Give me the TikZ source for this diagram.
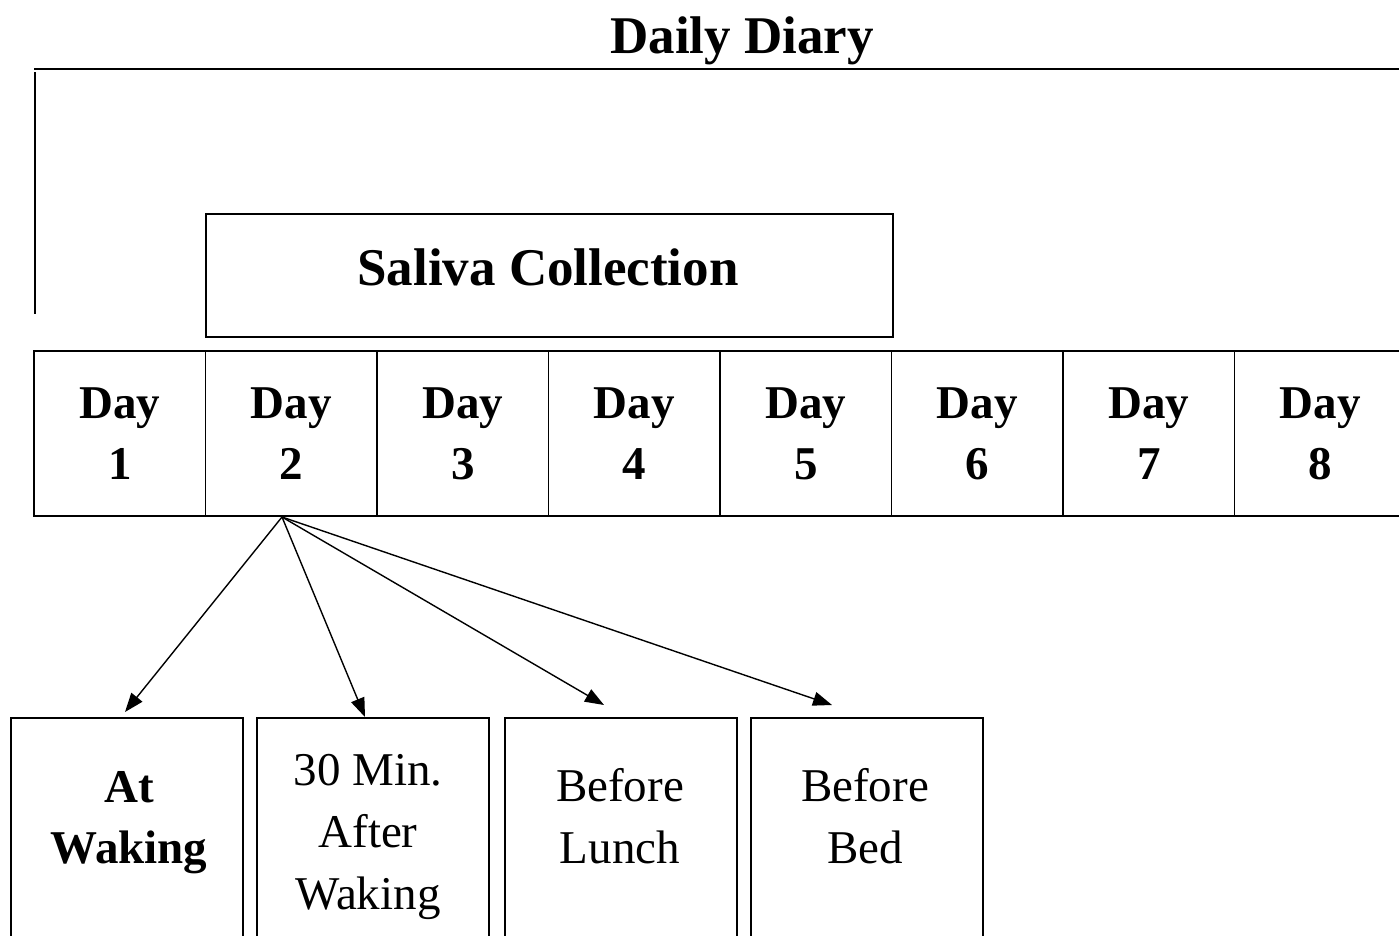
\documentclass[tikz,border=0pt]{standalone}
\usepackage{fontspec}
\setmainfont{Liberation Serif}
\usetikzlibrary{arrows.meta}
\begin{document}
\begin{tikzpicture}[x=1pt,y=-1pt,
  rule/.style={line width=1.8pt},
  daycell/.style={draw,line width=1.8pt,minimum width=171.5pt,minimum height=165pt,inner sep=0pt,outer sep=0pt,anchor=north west,align=center,font=\fontsize{47}{61}\selectfont\bfseries},
  timebox/.style={draw,line width=1.8pt,minimum width=232pt,minimum height=260pt,inner sep=0pt,outer sep=0pt,anchor=north west},
  boxtext/.style={inner sep=0pt,align=center,font=\fontsize{47}{62}\selectfont},
  arr/.style={line width=1.4pt,-{Triangle[length=19pt,width=14pt]}}]
\useasboundingbox (0,0) rectangle (1399,935);
% title and bracket
\node[inner sep=0pt,font=\fontsize{53}{60}\selectfont\bfseries] (title) at (742,41) {Daily Diary};
\coordinate (hl) at (34,69);
\coordinate (hr) at (1399,69);
\coordinate (vt) at (35,72);
\coordinate (vb) at (35,314);
\draw[rule] (hl) -- (hr);
\draw[rule] (vt) -- (vb);
% saliva collection
\node[draw,line width=1.8pt,minimum width=687pt,minimum height=123pt,inner sep=0pt,anchor=north west] (saliva) at (205,213) {};
\node[inner sep=0pt,font=\fontsize{53}{60}\selectfont\bfseries] (salivatext) at (548,267) {Saliva Collection};
% days
\node[daycell] (d1) at (34,351) {Day\\1};
\node[daycell] (d2) at (205.5,351) {Day\\2};
\node[daycell] (d3) at (377,351) {Day\\3};
\node[daycell] (d4) at (548.5,351) {Day\\4};
\node[daycell] (d5) at (720,351) {Day\\5};
\node[daycell] (d6) at (891.5,351) {Day\\6};
\node[daycell] (d7) at (1063,351) {Day\\7};
\node[daycell] (d8) at (1234.5,351) {Day\\8};
% time boxes
\node[timebox] (w1) at (11,718) {};
\node[timebox] (w2) at (257,718) {};
\node[timebox] (w3) at (505,718) {};
\node[timebox] (w4) at (751,718) {};
\node[boxtext,font=\fontsize{47}{61}\selectfont\bfseries] (t1) at (129,823) {At\\Waking};
\node[boxtext] (t2) at (368,837) {30 Min.\\After\\Waking};
\node[boxtext] (t3) at (620,816) {Before\\Lunch};
\node[boxtext] (t4) at (865,816) {Before\\Bed};
% arrows
\coordinate (src) at (282,517);
\coordinate (e1) at (125,712);
\coordinate (e2) at (365,717);
\coordinate (e3) at (604,705);
\coordinate (e4) at (832,705);
\draw[arr] (src) -- (e1);
\draw[arr] (src) -- (e2);
\draw[arr] (src) -- (e3);
\draw[arr] (src) -- (e4);
\end{tikzpicture}
\end{document}
